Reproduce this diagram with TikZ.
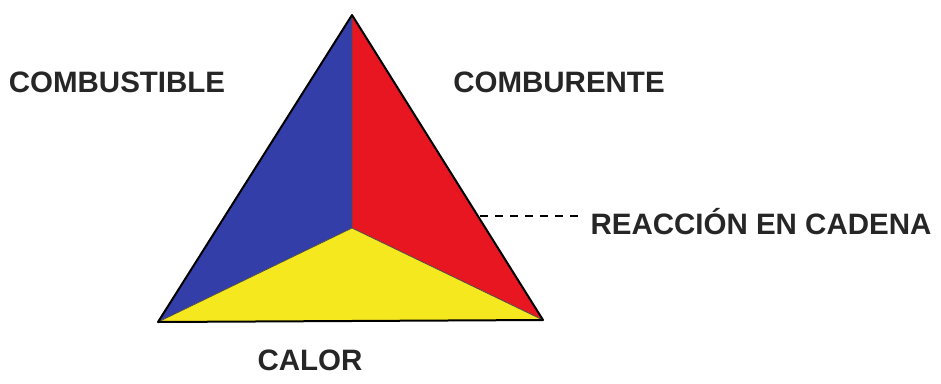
\documentclass[tikz,border=0pt]{standalone}
\usepackage{fontspec}
\setmainfont{Liberation Sans}
\begin{document}
\begin{tikzpicture}[x=1pt,y=-1pt,
  lbl/.style={font=\fontsize{29.5}{32}\selectfont\bfseries, text=black!85, inner sep=0pt, anchor=center},
  face/.style={draw=black!80, line width=1.2pt, line join=round}]
\definecolor{fblue}{RGB}{52,62,168}
\definecolor{fred}{RGB}{232,22,32}
\definecolor{fyellow}{RGB}{246,232,30}
\useasboundingbox (0,0) rectangle (941,383);
\coordinate (A) at (352,15);
\coordinate (L) at (158,322);
\coordinate (R) at (543,320);
\coordinate (C) at (352,228);
\fill[fblue] (A) -- (L) -- (C) -- cycle;
\fill[fred] (A) -- (C) -- (R) -- cycle;
\fill[fyellow] (L) -- (C) -- (R) -- cycle;
\draw[black!70, line width=0.8pt] (A) -- (C) (L) -- (C) -- (R);
\draw[black, line width=2pt, line join=round] (A) -- (L) -- (R) -- cycle;
\node[lbl] (comb) at (117,82) {COMBUSTIBLE};
\node[lbl] (cmbr) at (559,82) {COMBURENTE};
\node[lbl] (reac) at (761,222) {REACCIÓN EN CADENA};
\node[lbl] (calor) at (310,360) {CALOR};
\coordinate (d1) at (480,216);
\coordinate (d2) at (578,216);
\draw[black, line width=1.6pt, dash pattern=on 8pt off 7pt] (d1) -- (d2);
\end{tikzpicture}
\end{document}
